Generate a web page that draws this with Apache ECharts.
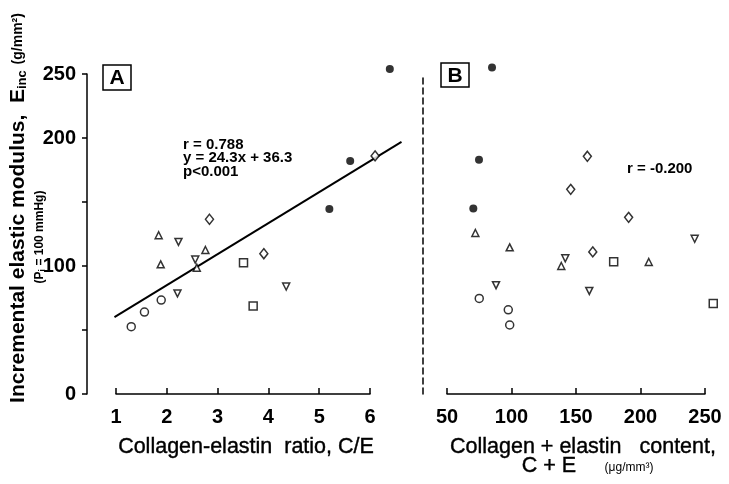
<!DOCTYPE html>
<html>
<head>
<meta charset="utf-8">
<script src="https://cdn.jsdelivr.net/npm/echarts@6/dist/echarts.min.js"></script>
<style>
  html, body { margin: 0; padding: 0; background: #fff; }
  #chart { width: 729px; height: 484px; }
</style>
</head>
<body>
<div id="chart"></div>
<script>
// panel A: collagen-elastin ratio vs Einc
const filledA = [[6.39, 254], [5.61, 182], [5.20, 144.5]]
const circleA = [[1.30, 52.6], [1.56, 64], [1.89, 73.4]]
const triUpA = [[1.84, 124], [2.76, 112.5], [1.88, 101.3], [2.59, 98.7]]
const triDownA = [[2.23, 118.8], [2.56, 105], [2.21, 78.6], [4.35, 84]]
const squareA = [[3.51, 102.6], [3.70, 68.7]]
const diamondA = [[6.10, 186], [2.84, 136.5], [3.91, 109.6]]
const regLineA = [[0.97, 60], [6.62, 197]]

// panel B: collagen + elastin content vs Einc
const filledB = [[84.9, 255], [74.8, 183], [70.4, 145]]
const circleB = [[75, 74.7], [97.5, 65.8], [98.6, 53.9]]
const triUpB = [[72, 125.8], [98.6, 114.6], [138.6, 100], [206.4, 103.1]]
const triDownB = [[242, 121.3], [141.7, 106], [88, 85], [160.3, 80.5]]
const squareB = [[179.2, 103.4], [256.4, 70.8]]
const diamondB = [[158.8, 185.7], [145.9, 159.9], [190.8, 138], [163, 111]]

const yTicksShown = [0, 100, 200, 250]

const FONT = 'Liberation Sans'
const chart = echarts.init(document.getElementById('chart'))

const openStyle = { color: '#fff', borderColor: '#000', borderWidth: 1.5 }

const scatter = (data, idx, shape, size, opts = {}) => ({
  type: 'scatter',
  xAxisIndex: idx,
  yAxisIndex: idx,
  data,
  symbol: shape,
  symbolSize: size,
  symbolRotate: opts.rotate || 0,
  clip: false,
  itemStyle: opts.filled ? { color: '#000' } : openStyle,
  silent: true
})

const markerSet = (idx, s) => [
  scatter(s.filled, idx, 'circle', 8, { filled: true }),
  scatter(s.circle, idx, 'circle', 8),
  scatter(s.triUp, idx, 'triangle', 7),
  scatter(s.triDown, idx, 'triangle', 7, { rotate: 180 }),
  scatter(s.square, idx, 'rect', 8),
  scatter(s.diamond, idx, 'diamond', [8, 10])
]

const xAxisBase = {
  type: 'value',
  offset: 11,
  axisLine: { lineStyle: { color: '#000', width: 1.5 } },
  axisTick: { inside: true, length: 6, lineStyle: { color: '#000', width: 1.5 } },
  axisLabel: { color: '#000', fontFamily: FONT, fontWeight: 'bold', fontSize: 20, margin: 2 },
  splitLine: { show: false }
}

const hiddenAxis = {
  type: 'value', show: false,
  axisLine: { show: false }, axisTick: { show: false }, axisLabel: { show: false }, splitLine: { show: false }
}

// A's scale is 50.8 px per unit; the third grid only widens it so the fit line can run past 6
const option = {
  animation: false,
  backgroundColor: '#fff',
  grid: [
    { left: 116, top: 74, width: 254, height: 320 },
    { left: 447, top: 74, width: 258, height: 320 },
    { left: 110.92, top: 74, width: 299.72, height: 320 }
  ],
  xAxis: [
    { ...xAxisBase, gridIndex: 0, min: 1, max: 6, interval: 1 },
    { ...xAxisBase, gridIndex: 1, min: 50, max: 250, interval: 50 },
    { ...hiddenAxis, gridIndex: 2, min: 0.9, max: 6.8 }
  ],
  yAxis: [
    {
      type: 'value', gridIndex: 0, min: 0, max: 250, interval: 50, offset: 29,
      axisLine: { show: true, lineStyle: { color: '#000', width: 1.5 } },
      axisTick: { show: true, length: 5, lineStyle: { color: '#000', width: 1.5 } },
      axisLabel: {
        color: '#000', fontFamily: FONT, fontWeight: 'bold', fontSize: 20, margin: 11,
        formatter: v => yTicksShown.includes(v) ? String(v) : ''
      },
      splitLine: { show: false }
    },
    {
      type: 'value', gridIndex: 1, min: 0, max: 250, offset: 24,
      axisLine: { show: true, lineStyle: { color: '#000', width: 1.5, type: [6, 4] } },
      axisTick: { show: false },
      axisLabel: { show: false },
      splitLine: { show: false }
    },
    { ...hiddenAxis, gridIndex: 2, min: 0, max: 250 }
  ],
  series: [
    ...markerSet(0, { filled: filledA, circle: circleA, triUp: triUpA, triDown: triDownA, square: squareA, diamond: diamondA }),
    ...markerSet(1, { filled: filledB, circle: circleB, triUp: triUpB, triDown: triDownB, square: squareB, diamond: diamondB }),
    {
      type: 'line',
      xAxisIndex: 2,
      yAxisIndex: 2,
      data: regLineA,
      symbol: 'none',
      clip: false,
      z: 1,
      lineStyle: { color: '#000', width: 2 },
      silent: true
    }
  ],
  graphic: [
    // panel letters
    { type: 'rect', shape: { x: 103, y: 65, width: 28, height: 25 }, style: { fill: 'none', stroke: '#000', lineWidth: 1.5 } },
    { type: 'text', x: 117, y: 78, style: { text: 'A', font: `bold 21px "${FONT}"`, fill: '#000', align: 'center', verticalAlign: 'middle' } },
    { type: 'rect', shape: { x: 441, y: 63, width: 28, height: 24 }, style: { fill: 'none', stroke: '#000', lineWidth: 1.5 } },
    { type: 'text', x: 455, y: 76, style: { text: 'B', font: `bold 21px "${FONT}"`, fill: '#000', align: 'center', verticalAlign: 'middle' } },
    // statistics
    { type: 'text', x: 183, y: 138, style: { text: 'r = 0.788\ny = 24.3x + 36.3\np<0.001', font: `bold 15px "${FONT}"`, lineHeight: 13.5, fill: '#000' } },
    { type: 'text', x: 627, y: 169, style: { text: 'r = -0.200', font: `bold 15px "${FONT}"`, fill: '#000', verticalAlign: 'middle' } },
    // y title
    {
      type: 'text', x: 18, y: 208, rotation: Math.PI / 2,
      style: {
        text: 'Incremental elastic modulus,  E{sub|inc} {u|(g/mm²)}',
        font: `bold 21px "${FONT}"`, fill: '#000', align: 'center', verticalAlign: 'middle',
        rich: {
          sub: { font: `bold 13px "${FONT}"`, fill: '#000', padding: [8, 0, 0, 0] },
          u: { font: `bold 14px "${FONT}"`, fill: '#000' }
        }
      }
    },
    {
      type: 'text', x: 40, y: 237, rotation: Math.PI / 2,
      style: {
        text: '(P{s|i} = 100 mmHg)',
        font: `bold 12px "${FONT}"`, fill: '#000', align: 'center', verticalAlign: 'middle',
        rich: { s: { font: `bold 9px "${FONT}"`, fill: '#000', padding: [5, 0, 0, 0] } }
      }
    },
    // x titles
    { type: 'text', x: 246, y: 447, style: { text: 'Collagen-elastin  ratio, C/E', font: `21.5px "${FONT}"`, fill: '#000', stroke: '#000', lineWidth: 0.4, align: 'center', verticalAlign: 'middle' } },
    { type: 'text', x: 583, y: 447, style: { text: 'Collagen + elastin   content,', font: `21.5px "${FONT}"`, fill: '#000', stroke: '#000', lineWidth: 0.4, align: 'center', verticalAlign: 'middle' } },
    { type: 'text', x: 549, y: 466, style: { text: 'C + E', font: `21.5px "${FONT}"`, fill: '#000', stroke: '#000', lineWidth: 0.4, align: 'center', verticalAlign: 'middle' } },
    { type: 'text', x: 629, y: 468, style: { text: '(μg/mm³)', font: `12px "${FONT}"`, fill: '#000', align: 'center', verticalAlign: 'middle' } }
  ]
}

chart.setOption(option)
</script>
</body>
</html>
